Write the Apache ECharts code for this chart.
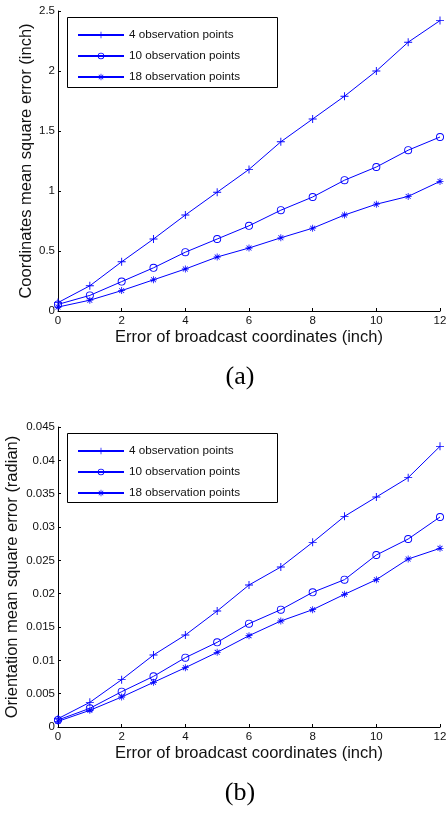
<!DOCTYPE html>
<html>
<head>
<meta charset="utf-8">
<script src="https://cdn.jsdelivr.net/npm/echarts@6/dist/echarts.min.js"></script>
<style>
  html, body { margin: 0; padding: 0; background: #fff; }
  #chart { width: 448px; height: 813px; }
</style>
</head>
<body>
<div id="chart"></div>
<script>
// x axis: error of broadcast coordinates (inch)
var xValues = [0, 1, 2, 3, 4, 5, 6, 7, 8, 9, 10, 11, 12];
var seriesNames = ["4 observation points", "10 observation points", "18 observation points"];

// (a) coordinates mean square error (inch)
var coord4 = [0.07, 0.21, 0.41, 0.60, 0.80, 0.99, 1.18, 1.41, 1.60, 1.79, 2.00, 2.24, 2.42];
var coord10 = [0.055, 0.13, 0.245, 0.36, 0.49, 0.60, 0.71, 0.84, 0.95, 1.09, 1.20, 1.34, 1.45];
var coord18 = [0.033, 0.09, 0.17, 0.26, 0.35, 0.45, 0.525, 0.61, 0.69, 0.80, 0.89, 0.955, 1.08];

// (b) orientation mean square error (radian)
var orient4 = [0.00125, 0.0037, 0.0071, 0.0108, 0.0138, 0.0174, 0.0213, 0.024, 0.0277, 0.0316, 0.0345, 0.0374, 0.0421];
var orient10 = [0.00105, 0.0028, 0.0053, 0.0076, 0.0104, 0.0127, 0.0155, 0.0176, 0.0202, 0.0221, 0.0258, 0.0282, 0.0315];
var orient18 = [0.00085, 0.0025, 0.0045, 0.0067, 0.0089, 0.0112, 0.0137, 0.0159, 0.0176, 0.0199, 0.0221, 0.0252, 0.0268];

var blue = "#0000ff";
var font = "Liberation Sans, Arial, Helvetica, sans-serif";

// marker shapes like matlab '+', 'o', '*'
var plusSym = "path://M-0.45,-4H0.45V4H-0.45Z M-4,-0.45H4V0.45H-4Z";
var ringSym = "path://M0,-4A4,4 0 1,1 0,4A4,4 0 1,1 0,-4Z M0,-3.1A3.1,3.1 0 1,0 0,3.1A3.1,3.1 0 1,0 0,-3.1Z";
var starSym = "path://M-0.45,-4H0.45V4H-0.45Z M-4,-0.45H4V0.45H-4Z M-3.1,-2.5L-2.5,-3.1L3.1,2.5L2.5,3.1Z M2.5,-3.1L3.1,-2.5L-2.5,3.1L-3.1,2.5Z";

function pairs(ys) {
  return xValues.map(function (x, i) { return [x, ys[i]]; });
}

function makeSeries(name, ys, idx, k) {
  var s = {
    name: name,
    type: "line",
    xAxisIndex: idx,
    yAxisIndex: idx,
    data: pairs(ys),
    lineStyle: { color: blue, width: 1 },
    itemStyle: { color: blue, borderWidth: 0 },
    showSymbol: true,
    symbolSize: 8,
    animation: false,
    emphasis: { disabled: true }
  };
  if (k === 0) { s.symbol = plusSym; }
  if (k === 1) { s.symbol = ringSym; s.symbolSize = 8; }
  if (k === 2) { s.symbol = starSym; s.symbolSize = 7; }
  return s;
}

function xAxisFor(idx) {
  return {
    type: "value",
    gridIndex: idx,
    min: 0, max: 12, interval: 2,
    name: "Error of broadcast coordinates (inch)",
    nameLocation: "middle",
    nameGap: 18,
    nameMoveOverlap: false,
    nameTextStyle: { fontFamily: font, fontSize: 16.5, color: "#111" },
    axisLine: { lineStyle: { color: "#000", width: 1 } },
    axisTick: { inside: true, length: 3, lineStyle: { color: "#000" } },
    axisLabel: { fontFamily: font, fontSize: 11.5, color: "#111", margin: 4 },
    splitLine: { show: false }
  };
}

function yAxisFor(idx, name, max, interval, gap) {
  return {
    type: "value",
    gridIndex: idx,
    min: 0, max: max, interval: interval,
    name: name,
    nameLocation: "middle",
    nameGap: gap,
    nameMoveOverlap: false,
    nameTextStyle: { fontFamily: font, fontSize: 16.5, color: "#111" },
    axisLine: { show: true, lineStyle: { color: "#000", width: 1 } },
    axisTick: { show: true, inside: true, length: 3, lineStyle: { color: "#000" } },
    axisLabel: {
      fontFamily: font, fontSize: 11.5, color: "#111", margin: 3,
      formatter: function (v) { return String(+v.toFixed(4)); }
    },
    splitLine: { show: false }
  };
}

function legendFor(top) {
  return {
    orient: "vertical",
    left: 72,
    top: top,
    itemWidth: 46,
    itemHeight: 8,
    itemGap: 9,
    data: seriesNames,
    textStyle: { fontFamily: font, fontSize: 11.7, color: "#111" },
    selectedMode: false
  };
}

var chart = echarts.init(document.getElementById("chart"));
var option = {
  backgroundColor: "#fff",
  animation: false,
  grid: [
    { left: 58, top: 11, width: 382, height: 300, outerBoundsMode: "none", containLabel: false },
    { left: 58, top: 427, width: 382, height: 300, outerBoundsMode: "none", containLabel: false }
  ],
  xAxis: [xAxisFor(0), xAxisFor(1)],
  yAxis: [
    yAxisFor(0, "Coordinates mean square error (inch)", 2.5, 0.5, 23),
    yAxisFor(1, "Orientation mean square error (radian)", 0.045, 0.005, 37)
  ],
  legend: [legendFor(24), legendFor(440)],
  graphic: [
    { type: "rect", shape: { x: 67.5, y: 17.5, width: 210, height: 70 },
      style: { fill: "none", stroke: "#000", lineWidth: 1 }, z: 100 },
    { type: "rect", shape: { x: 67.5, y: 433.5, width: 210, height: 69 },
      style: { fill: "none", stroke: "#000", lineWidth: 1 }, z: 100 },
    { type: "text", x: 240, y: 364,
      style: { text: "(a)", font: "26px Liberation Serif, Times New Roman, serif", fill: "#000",
               textAlign: "center", textVerticalAlign: "top" } },
    { type: "text", x: 240, y: 780,
      style: { text: "(b)", font: "26px Liberation Serif, Times New Roman, serif", fill: "#000",
               textAlign: "center", textVerticalAlign: "top" } }
  ],
  series: [
    makeSeries(seriesNames[0], coord4, 0, 0),
    makeSeries(seriesNames[1], coord10, 0, 1),
    makeSeries(seriesNames[2], coord18, 0, 2),
    makeSeries(seriesNames[0], orient4, 1, 0),
    makeSeries(seriesNames[1], orient10, 1, 1),
    makeSeries(seriesNames[2], orient18, 1, 2)
  ]
};
chart.setOption(option);
</script>
</body>
</html>
